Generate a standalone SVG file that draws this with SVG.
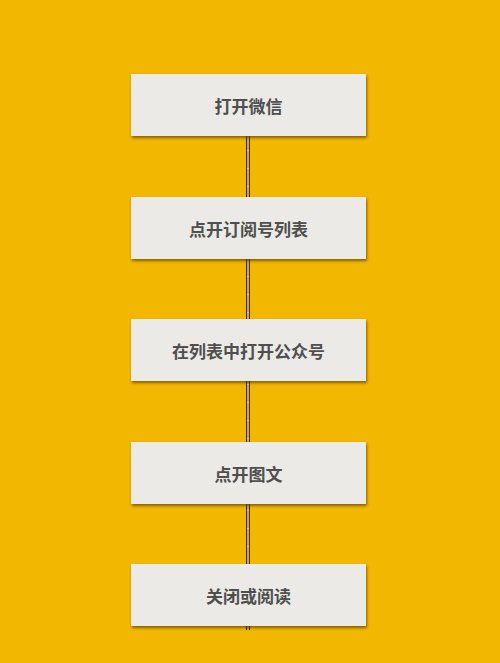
<svg xmlns="http://www.w3.org/2000/svg" width="500" height="663" viewBox="0 0 500 663">
<defs>
<filter id="sh" x="-10%" y="-20%" width="120%" height="150%">
<feDropShadow dx="1" dy="2" stdDeviation="1.5" flood-color="#4a3200" flood-opacity="0.65"/>
</filter>
</defs>
<style>
.box{fill:#ebeae7;filter:url(#sh)}
.lbl{font-family:"Noto Sans CJK SC","Noto Sans",sans-serif;font-size:17px;font-weight:bold;fill:#4f4f4f;text-anchor:middle;dominant-baseline:central}
.ln{stroke:#3b2a12;stroke-width:1}
.dash{stroke:#fff4d0;stroke-width:1;stroke-dasharray:1 17}
</style>
<rect width="500" height="663" fill="#f2b700"/>
<g id="connectors">
<line class="ln" x1="246.5" y1="136" x2="246.5" y2="630"/>
<line class="ln" x1="249.5" y1="136" x2="249.5" y2="630"/>
<line x1="248" y1="136" x2="248" y2="630" stroke="#e0a520" stroke-width="2"/>
<line class="dash" x1="248" y1="150" x2="248" y2="630"/>
</g>
<g id="n1"><rect class="box" x="131" y="74" width="235" height="62"/><text class="lbl" x="248.5" y="105.5">打开微信</text></g>
<g id="n2"><rect class="box" x="131" y="197" width="235" height="62"/><text class="lbl" x="248.5" y="228">点开订阅号列表</text></g>
<g id="n3"><rect class="box" x="131" y="319" width="235" height="62"/><text class="lbl" x="248.5" y="350.5">在列表中打开公众号</text></g>
<g id="n4"><rect class="box" x="131" y="442" width="235" height="62"/><text class="lbl" x="248.5" y="473">点开图文</text></g>
<g id="n5"><rect class="box" x="131" y="564" width="235" height="62"/><text class="lbl" x="248.5" y="595.5">关闭或阅读</text></g>
</svg>
